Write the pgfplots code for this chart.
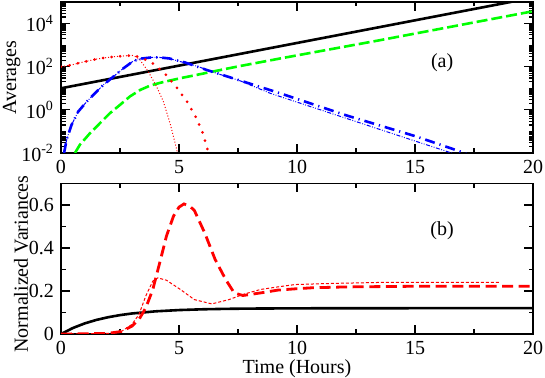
\documentclass[border=0pt]{standalone}
\usepackage{fontspec}
\setmainfont{Liberation Serif}
\usepackage{pgfplots}
\pgfplotsset{compat=1.18}
\definecolor{gred}{RGB}{255,0,0}
\definecolor{ggreen}{RGB}{0,255,0}
\definecolor{gblue}{RGB}{0,0,255}

\pgfplotsset{panel/.style={
    scale only axis, width=236pt,
    xmin=0, xmax=20, xtick={0,5,10,15,20}, minor x tick num=1,
    tick align=inside, major tick length=4.5pt, minor tick length=2.25pt,
    axis line style={line width=0.75pt},
    every tick/.style={black, line width=0.6pt},
    tick label style={font=\fontsize{10}{12}\selectfont},
    label style={font=\fontsize{10}{12}\selectfont},
    /pgf/number format/assume math mode=true,
    clip=true}}

\begin{document}
\begin{tikzpicture}
% ---------- (a) averages, log scale ----------
\begin{axis}[panel,
    at={(0,90.5pt)}, anchor=south west, height=75.5pt,
    ymode=log, ymin=1e-2, ymax=1e5,
    ytick={1e-2,1,1e2,1e4},
    yticklabels={10\textsuperscript{-2},10\textsuperscript{0},10\textsuperscript{2},10\textsuperscript{4}},
    minor ytick={2e-2,3e-2,4e-2,5e-2,6e-2,7e-2,8e-2,9e-2,1e-1,2e-1,3e-1,4e-1,5e-1,6e-1,7e-1,8e-1,9e-1,
                 2,3,4,5,6,7,8,9,10,20,30,40,50,60,70,80,90,200,300,400,500,600,700,800,900,1000,
                 2000,3000,4000,5000,6000,7000,8000,9000,2e4,3e4,4e4,5e4,6e4,7e4,8e4,9e4},
    ylabel={Averages},
    ylabel style={at={(axis description cs:-0.095,0.5)}, anchor=base},
]
    % black solid
    \addplot[black, line width=1.3pt] coordinates {(0,10) (20,158489)};
    % green dashed
    \addplot[ggreen, line width=1.3pt, dash pattern=on 5.5pt off 2pt] coordinates {
        (0.59,0.01) (0.8,0.024) (1.23,0.083) (1.65,0.24) (2.08,0.71) (2.5,1.7)
        (2.92,4.17) (3.35,8.32) (3.77,13.2) (4.19,17.8) (4.62,22.9) (5.2,31.6)
        (5.75,41.7) (6.45,60.3) (7.58,107) (9.28,240) (13.52,1698) (20,37150)
    };
    % blue thick dash-dot
    \addplot[gblue, line width=1.3pt, dash pattern=on 5pt off 2.5pt on 0.6pt off 2.5pt] coordinates {
        (0.13,0.01) (0.24,0.0417) (0.45,0.204) (0.73,0.832) (1.09,2.40) (1.44,5.89)
        (1.79,14.1) (2.22,34.7) (2.64,83.2) (3.06,182) (3.42,240) (3.84,269)
        (4.19,269) (4.6,240) (5.25,158) (6.17,70.8) (7.3,28.8) (9.28,5.89)
        (12.1,0.55) (15.04,0.0589) (17.1,0.01) (17.2,0.0085)
    };
    % blue thin dash-dot-dot
    \addplot[gblue, line width=0.5pt, dash pattern=on 2pt off 0.8pt on 0.4pt off 0.8pt on 0.4pt off 0.8pt] coordinates {
        (0.13,0.01) (0.24,0.0417) (0.45,0.204) (0.73,0.832) (1.09,2.40) (1.44,5.89)
        (1.79,14.1) (2.22,34.7) (2.64,83.2) (3.06,182) (3.42,240) (3.84,269)
        (4.19,269) (4.75,214) (5.75,107) (6.6,49) (7.58,22.4) (8.86,5.89)
        (15.04,0.0347) (16.55,0.01) (16.6,0.0091)
    };
    % red thick dotted
    \addplot[gred, line width=1.5pt, line cap=round, dash pattern=on 0pt off 4.3pt] coordinates {
        (0,100) (0.45,120) (0.78,151) (1.12,182) (1.48,224) (1.84,257) (2.22,288)
        (2.57,309) (2.92,331) (3.0,339) (3.28,288) (3.6,209) (3.94,132) (4.45,41.7)
        (4.93,10) (5.35,2.29) (5.72,0.447) (6.0,0.0891) (6.2,0.0158) (6.28,0.0089)
    };
    % red thin dotted
    \addplot[gred, line width=0.5pt, dash pattern=on 0.5pt off 1pt] coordinates {
        (0,100) (0.45,120) (0.78,151) (1.12,182) (1.48,224) (1.84,257) (2.22,288)
        (2.57,309) (2.92,331) (3.0,339) (3.2,282) (3.35,204) (3.70,58.9) (4.05,12.0)
        (4.34,2.40) (4.62,0.240) (4.87,0.0204) (4.93,0.0107)
    };
    \node[font=\fontsize{10}{12}\selectfont] at (axis cs:16.15,148) {(a)};
\end{axis}

% ---------- (b) normalized variances ----------
\begin{axis}[panel,
    at={(0,0)}, anchor=south west, height=75.25pt,
    ymin=0, ymax=0.7, ytick={0,0.2,0.4,0.6}, yticklabels={0,0.2,0.4,0.6},
    minor y tick num=1,
    xlabel={Time (Hours)},
    xlabel style={at={(axis description cs:0.5,-0.262)}, anchor=base},
    ylabel={Normalized Variances},
    ylabel style={at={(axis description cs:-0.07,0.465)}, anchor=base},
]
    % black solid
    \addplot[black, line width=1.3pt] coordinates {
        (0,0) (0.5,0.0277) (1,0.0491) (1.5,0.0655) (2,0.0781) (2.5,0.0878) (3,0.0953)
        (4,0.1054) (5,0.1113) (6,0.1149) (7,0.117) (8,0.1182) (10,0.1194) (12,0.1198)
        (15,0.12) (20,0.12)
    };
    % red thick dashed
    \addplot[gred, line width=1.4pt, dash pattern=on 5.5pt off 2.8pt] coordinates {
        (0,0) (1,0.001) (2,0.003) (2.56,0.012) (3.0,0.036) (3.3,0.067) (3.59,0.121)
        (3.89,0.207) (4.18,0.33) (4.47,0.456) (4.77,0.549) (5.0,0.59) (5.21,0.605)
        (5.45,0.595) (5.65,0.575) (6.09,0.47) (6.53,0.347) (6.98,0.253) (7.34,0.191)
        (7.71,0.179) (8.45,0.191) (9.18,0.204) (9.92,0.21) (10.65,0.215) (12.1,0.219)
        (15,0.222) (20,0.222)
    };
    % red thin dashed
    \addplot[gred, line width=0.5pt, dash pattern=on 1.5pt off 1pt] coordinates {
        (0,0) (2,0.003) (2.56,0.012) (3.0,0.044) (3.3,0.09) (3.59,0.176) (3.89,0.246)
        (4.1,0.261) (4.47,0.25) (5.06,0.207) (5.65,0.16) (6.39,0.14) (7.12,0.16)
        (7.71,0.184) (8.45,0.207) (9.18,0.219) (9.92,0.23) (11.4,0.235) (13.6,0.24)
        (18.6,0.24)
    };
    \node[font=\fontsize{10}{12}\selectfont] at (axis cs:16.15,0.48) {(b)};
\end{axis}
\pgfresetboundingbox
\path[use as bounding box] (-30.5pt,-22pt) rectangle (242pt,167pt);
\end{tikzpicture}
\end{document}
